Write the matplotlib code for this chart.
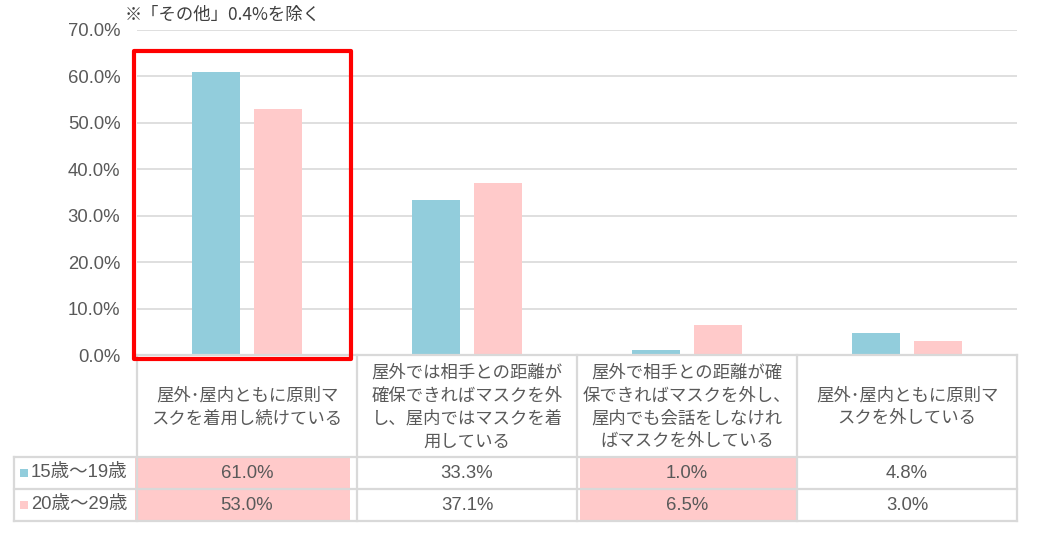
import matplotlib.pyplot as plt
from matplotlib.patches import Rectangle

plt.rcParams['font.family'] = ['Liberation Sans', 'Noto Sans CJK JP', 'DejaVu Sans']

# data
categories = [
    "屋外･屋内ともに原則マ\nスクを着用し続けている",
    "屋外では相手との距離が\n確保できればマスクを外\nし、屋内ではマスクを着\n用している",
    "屋外で相手との距離が確\n保できればマスクを外し、\n屋内でも会話をしなけれ\nばマスクを外している",
    "屋外･屋内ともに原則マ\nスクを外している",
]
series_names = ["15歳～19歳", "20歳～29歳"]
teens = [61.0, 33.3, 1.0, 4.8]
twenties = [53.0, 37.1, 6.5, 3.0]
highlight_cols = [0, 2]
yticks = [0, 10, 20, 30, 40, 50, 60, 70]
note = "※「その他」0.4%を除く"

blue = '#92CDDC'
pink = '#FFCACA'
grid_c = '#D9D9D9'
txt_c = '#595959'

W, H = 1053, 543
fig = plt.figure(figsize=(W / 100, H / 100), dpi=100)

# plot area in pixels
x0, x1 = 137, 1017
y_zero, y_top = 355, 30
ax = fig.add_axes([x0 / W, 1 - y_zero / H, (x1 - x0) / W, (y_zero - y_top) / H])
n = len(categories)
xs = list(range(n))
ax.bar([x - 0.141 for x in xs], teens, width=0.222, color=blue, zorder=3)
ax.bar([x + 0.141 for x in xs], twenties, width=0.222, color=pink, zorder=3)
ax.set_xlim(-0.5, n - 0.5)
ax.set_ylim(0, 70)
ax.set_yticks(yticks)
ax.set_yticklabels([f"{v:.1f}%" for v in yticks], fontsize=13.3, color=txt_c)
ax.set_xticks([])
ax.tick_params(axis='y', length=0, pad=12)
ax.grid(axis='y', color=grid_c, linewidth=1.2, zorder=0)
for s in ax.spines.values():
    s.set_visible(False)
ax.set_facecolor('none')

# overlay in pixel coords for the table, note and highlight box
ov = fig.add_axes([0, 0, 1, 1])
ov.set_xlim(0, W)
ov.set_ylim(H, 0)
ov.axis('off')
ov.patch.set_alpha(0)

col_w = (x1 - x0) / n
row_top, row1, row2, row3 = y_zero, 457, 489, 521
lab_x = 14

# highlighted cells
for c in highlight_cols:
    left = x0 + c * col_w + (-2 if c == 0 else 3)
    right = x0 + (c + 1) * col_w - (7 if c == 0 else 0)
    ov.add_patch(Rectangle((left, row1), right - left, row3 - row1,
                           facecolor=pink, edgecolor='none', zorder=1))

lw = 1.6
ov.plot([x0, x1], [row_top, row_top], color=grid_c, lw=lw, zorder=2)
for y in (row1, row2, row3):
    ov.plot([lab_x, x1], [y, y], color=grid_c, lw=lw, zorder=2)
for i in range(n + 1):
    ov.plot([x0 + i * col_w] * 2, [row_top, row3], color=grid_c, lw=lw, zorder=2)
ov.plot([lab_x, lab_x], [row1, row3], color=grid_c, lw=lw, zorder=2)

# header labels
for i, lab in enumerate(categories):
    ov.text(x0 + (i + 0.5) * col_w, (row_top + row1) / 2 + 1, lab, ha='center', va='center',
            fontsize=12.5, color=txt_c, linespacing=1.35, family=['Noto Sans CJK JP'], zorder=3)

# row labels and values
for r, (name, vals, col) in enumerate(zip(series_names, [teens, twenties], [blue, pink])):
    yc = (row1 + r * 32) + 16
    ov.add_patch(Rectangle((20, yc - 4), 8, 8, facecolor=col, edgecolor='none', zorder=3))
    ov.text(31, yc, name, ha='left', va='center', fontsize=13.3, color=txt_c, zorder=3)
    for i, v in enumerate(vals):
        ov.text(x0 + (i + 0.5) * col_w, yc, f"{v:.1f}%", ha='center', va='center',
                fontsize=13.3, color=txt_c, zorder=3)

# note
ov.text(125, 15, note, ha='left', va='center', fontsize=12.5, color='#404040',
        family=['Noto Sans CJK JP'])

# red highlight box
ov.add_patch(Rectangle((134, 51), 217, 308, facecolor='none', edgecolor='#FF0000',
                       linewidth=3, joinstyle='round', zorder=5))

fig.savefig('out.png', dpi=100)
